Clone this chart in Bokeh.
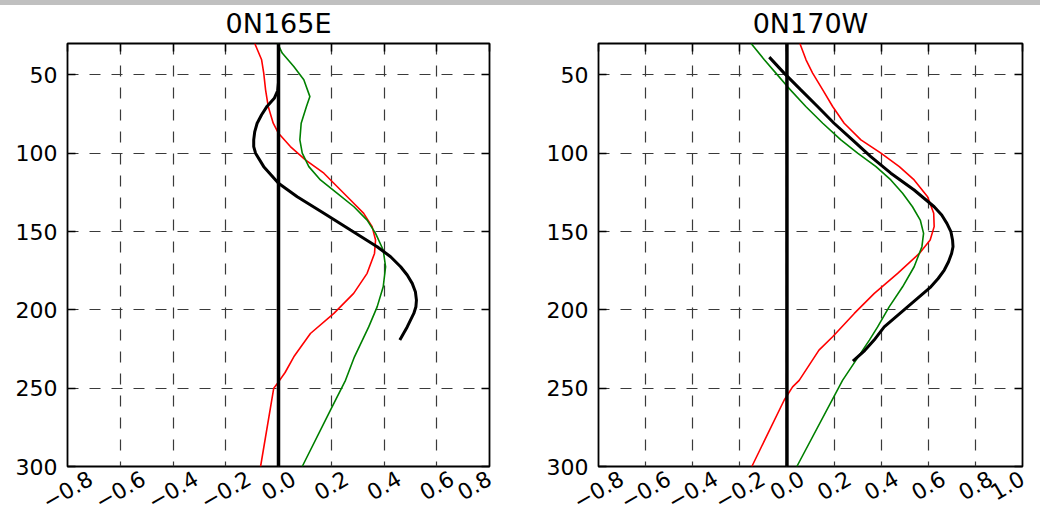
import math
from bokeh.plotting import figure
from bokeh.models import (Range1d, FixedTicker, Span, Div, LinearAxis,
                          CustomLabelingPolicy, CustomJSTickFormatter)
from bokeh.layouts import row, column
from bokeh.embed import file_html
from bokeh.resources import INLINE

# ---------------- data ----------------
depth_ticks = [50, 100, 150, 200, 250, 300]
x_ticks_left = [-0.8, -0.6, -0.4, -0.2, 0.0, 0.2, 0.4, 0.6, 0.8]
x_labels_left = ["\u22120.8", "\u22120.6", "\u22120.4", "\u22120.2", "0.0", "0.2", "0.4", "0.6", "0.8"]
x_ticks_right = [-0.8, -0.6, -0.4, -0.2, 0.0, 0.2, 0.4, 0.6, 0.8, 1.0]
x_labels_right = ["\u22120.8", "\u22120.6", "\u22120.4", "\u22120.2", "0.0", "0.2", "0.4", "0.6", "0.8", "1.0"]
titles = ["0N165E", "0N170W"]

# 0N165E
l_black_d = [55, 60, 65, 70, 75.5, 80.9, 86.2, 91.5, 95.8, 100, 108.6, 119.2, 127.8, 138.4, 149.1, 159.7,
             166.1, 172.5, 177.8, 183.1, 188.4, 193.8, 198, 202.3, 210.9, 219.3]
l_black_x = [0.0, -0.003, -0.016, -0.043, -0.064, -0.081, -0.090, -0.094, -0.094, -0.087, -0.056, 0.0,
             0.071, 0.172, 0.273, 0.374, 0.425, 0.463, 0.488, 0.507, 0.519, 0.523, 0.521, 0.513, 0.488, 0.46]

l_red_d = [30, 40.4, 48.9, 59.6, 70.2, 80.9, 87.3, 95.8, 104.3, 112.8, 121.4, 129.9, 138.4, 146.9, 155.4,
           164, 176.7, 189.5, 202.3, 215.1, 230, 240, 246, 250, 300]
l_red_x = [-0.09, -0.064, -0.056, -0.049, -0.039, -0.020, 0.0, 0.045, 0.102, 0.172, 0.223, 0.273, 0.323,
           0.355, 0.368, 0.364, 0.336, 0.285, 0.210, 0.121, 0.058, 0.025, 0.0, -0.018, -0.068]

l_green_d = [30, 36.1, 44.7, 53.2, 63.9, 70.2, 80.9, 91.5, 100, 108.6, 117.1, 125.6, 134.2, 142.7, 151.2,
             161.8, 172.5, 185.3, 198.1, 210.9, 230, 245, 264, 300]
l_green_x = [-0.003, 0.014, 0.058, 0.096, 0.119, 0.106, 0.086, 0.081, 0.090, 0.115, 0.159, 0.223, 0.286,
             0.336, 0.368, 0.397, 0.406, 0.397, 0.374, 0.342, 0.288, 0.254, 0.197, 0.090]

# 0N170W
r_black_d = [38.7, 48.9, 59.6, 70.2, 80.9, 91.5, 102.2, 112.8, 123.5, 134.2, 139.5, 144.8, 150.1, 155.4,
             159.7, 164, 169.3, 174.6, 180, 185.3, 198.1, 210.9, 219.3, 226, 232.8]
r_black_x = [-0.075, -0.012, 0.059, 0.130, 0.200, 0.278, 0.356, 0.441, 0.540, 0.625, 0.657, 0.679, 0.696,
             0.703, 0.705, 0.699, 0.686, 0.668, 0.642, 0.611, 0.512, 0.413, 0.37, 0.33, 0.28]

r_red_d = [30, 40.4, 48.9, 59.6, 70.2, 80.9, 91.5, 100, 108.6, 117.1, 127.8, 138.4, 146.9, 155.4, 164,
           176.7, 189.5, 202.3, 217.2, 225.7, 245, 249.2, 257.7, 300]
r_red_x = [0.055, 0.081, 0.109, 0.152, 0.194, 0.243, 0.314, 0.399, 0.477, 0.540, 0.597, 0.623, 0.625,
           0.608, 0.562, 0.470, 0.371, 0.286, 0.194, 0.136, 0.052, 0.024, -0.012, -0.149]

r_green_d = [30, 40.4, 48.9, 57.5, 70.2, 80.9, 91.5, 100, 108.6, 117.1, 125.6, 134.2, 142.7, 151.2, 159.7,
             172.5, 185.3, 198.1, 210.9, 219.3, 245, 300]
r_green_x = [-0.152, -0.096, -0.047, 0.002, 0.080, 0.152, 0.229, 0.300, 0.378, 0.441, 0.491, 0.533, 0.566,
             0.580, 0.573, 0.540, 0.491, 0.434, 0.385, 0.350, 0.236, 0.042]

FONT = "DejaVu Sans"
LABEL_FMT = """
let best = 0;
for (let i = 0; i < pos.length; i++) {
  if (Math.abs(pos[i] - tick) < Math.abs(pos[best] - tick)) best = i;
}
return labs[best];
"""
HIDE = "for (const i of indices) indices.unset(i)"


def tick_only_axis(ticks):
    return LinearAxis(ticker=FixedTicker(ticks=ticks),
                      axis_line_color=None, major_tick_in=8, major_tick_out=0,
                      major_tick_line_color="black", major_tick_line_width=1.5,
                      minor_tick_line_color=None, major_label_standoff=0,
                      major_label_text_font_size="1px",
                      major_label_policy=CustomLabelingPolicy(code=HIDE))


def make_panel(title, xr, xticks, xlabels, series, fw, bl, br):
    p = figure(frame_width=fw, frame_height=423,
               x_range=Range1d(xr[0], xr[1]), y_range=Range1d(300, 30),
               output_backend="svg", toolbar_location=None,
               min_border_left=bl, min_border_right=br,
               min_border_top=38, min_border_bottom=46,
               background_fill_color="white", border_fill_color="white")
    p.title.text = title
    p.title.align = "center"
    p.title.text_font = FONT
    p.title.text_font_size = "27px"
    p.title.text_font_style = "normal"
    p.title.text_color = "black"
    p.title.standoff = 1

    # left axis: labels + inward ticks
    ya = p.left[0]
    ya.ticker = FixedTicker(ticks=depth_ticks)
    ya.axis_line_color = None
    ya.major_tick_in = 8
    ya.major_tick_out = 0
    ya.major_tick_line_color = "black"
    ya.major_tick_line_width = 1.5
    ya.minor_tick_line_color = None
    ya.major_label_text_font = FONT
    ya.major_label_text_color = "black"
    ya.major_label_text_font_size = "22px"
    ya.major_label_standoff = 10

    # top / right: inward ticks only
    p.add_layout(tick_only_axis(xticks), "above")
    p.add_layout(tick_only_axis(depth_ticks), "right")

    # bottom axis: rotated labels centred under each tick (matplotlib style)
    scale = fw / (xr[1] - xr[0])
    pos = [min(xr[1], t + (0.433 * (53.4 if t < 0 else 35.0)) / scale) for t in xticks]
    xa = p.below[0]
    xa.ticker = FixedTicker(ticks=pos)
    xa.formatter = CustomJSTickFormatter(args=dict(pos=pos, labs=xlabels), code=LABEL_FMT)
    xa.axis_line_color = None
    xa.major_tick_line_color = None
    xa.minor_tick_line_color = None
    xa.major_label_orientation = math.pi / 6
    xa.major_label_standoff = 4
    xa.major_label_text_font = FONT
    xa.major_label_text_font_size = "22px"
    xa.major_label_text_color = "black"

    p.grid.grid_line_color = "#3a3a3a"
    p.grid.grid_line_dash = "11 11"
    p.grid.grid_line_width = 1.2
    p.xgrid.ticker = FixedTicker(ticks=xticks)
    p.ygrid.ticker = FixedTicker(ticks=depth_ticks)

    p.outline_line_color = "black"
    p.outline_line_width = 1.8
    p.outline_line_alpha = 1.0

    (bx_x, bx_d), (rx, rd), (gx, gd) = series
    p.line(rx, rd, line_color="#ff0000", line_width=1.6)
    p.line(gx, gd, line_color="#008000", line_width=1.6)
    p.line(bx_x, bx_d, line_color="black", line_width=3)
    p.add_layout(Span(location=0, dimension="height", line_color="black", line_width=3.5))
    return p


p1 = make_panel(titles[0], (-0.8, 0.8), x_ticks_left, x_labels_left,
                [(l_black_x, l_black_d), (l_red_x, l_red_d), (l_green_x, l_green_d)],
                422, 67, 31)
p2 = make_panel(titles[1], (-0.8, 1.0), x_ticks_right, x_labels_right,
                [(r_black_x, r_black_d), (r_red_x, r_red_d), (r_green_x, r_green_d)],
                424, 78, 18)

bar = Div(text="", width=1040, height=5, margin=0,
          styles={"background-color": "#c0c0c0"})

layout = column(bar, row(p1, p2, spacing=0), spacing=0)

open("out.html", "w").write(file_html(layout, INLINE))
